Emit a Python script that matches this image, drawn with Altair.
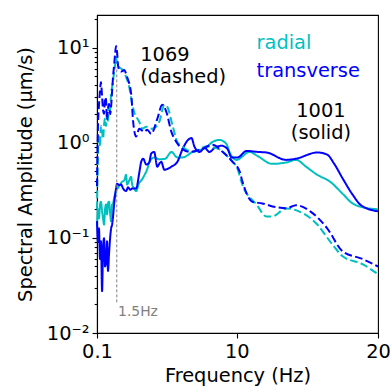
import altair as alt
import pandas as pd

# ---- station 1001 (solid lines) ----
t1001_freq = [0.10, 0.17, 0.24, 0.31, 0.38, 0.46, 0.53, 0.60, 0.67, 0.74,
              0.81, 0.88, 0.95, 1.03, 1.10, 1.17, 1.24, 1.31, 1.38, 1.45,
              1.52, 1.66, 1.81, 1.95, 2.16, 2.30, 2.45, 2.59, 2.73, 2.87,
              3.09, 3.23, 3.37, 3.59, 3.80, 3.94, 4.15, 4.37, 4.51, 4.65,
              4.87, 5.08, 5.37, 5.79, 6.15, 6.50, 6.79, 7.00, 7.36, 7.72,
              8.07, 8.42, 8.91, 9.34, 9.63, 10.05, 10.7, 11.5, 12.1, 13.5,
              14.2, 15.7, 16.4, 16.9, 17.5, 18.2, 18.8, 20.0]
t1001_amp = [0.15, 0.09, 0.126, 0.06, 0.092, 0.0275, 0.08, 0.099, 0.05, 0.057,
             0.092, 0.045, 0.067, 0.10, 0.126, 0.138, 0.17, 0.224, 0.28, 0.33,
             0.37, 0.36, 0.363, 0.33, 0.31, 0.34, 0.32, 0.33, 0.33, 0.33,
             0.48, 0.63, 0.68, 0.59, 0.62, 0.77, 0.80, 0.56, 0.60, 0.63,
             0.52, 0.53, 0.56, 0.63, 0.85, 1.05, 1.12, 0.91, 0.80, 0.88,
             0.80, 0.88, 0.93, 0.86, 0.70, 0.70, 0.82, 0.80, 0.79, 0.66,
             0.68, 0.79, 0.75, 0.60, 0.42, 0.285, 0.22, 0.19]

r1001_freq = [0.10, 0.17, 0.24, 0.31, 0.38, 0.46, 0.53, 0.60, 0.67, 0.74,
              0.81, 0.88, 0.95, 1.03, 1.10, 1.17, 1.24, 1.31, 1.45, 1.66,
              1.88, 2.02, 2.16, 2.23, 2.38, 2.52, 2.59, 2.73, 2.87, 3.09,
              3.23, 3.44, 3.66, 3.80, 4.15, 4.51, 4.94, 5.37, 5.79, 6.15,
              6.86, 7.86, 8.28, 8.77, 9.27, 9.48, 9.98, 10.9, 11.5, 12.5,
              13.5, 14.2, 14.9, 15.7, 16.6, 17.5, 18.2, 18.9, 20.0]
r1001_amp = [0.13, 0.20, 0.16, 0.22, 0.24, 0.19, 0.16, 0.138, 0.20, 0.224,
             0.176, 0.23, 0.24, 0.18, 0.149, 0.224, 0.23, 0.26, 0.31, 0.346,
             0.39, 0.40, 0.46, 0.363, 0.40, 0.44, 0.363, 0.33, 0.31, 0.38,
             0.40, 0.45, 0.53, 0.62, 0.70, 0.67, 0.68, 0.80, 0.70, 0.70,
             0.80, 0.90, 1.02, 1.07, 0.97, 0.80, 0.66, 0.80, 0.72, 0.60,
             0.62, 0.66, 0.56, 0.46, 0.39, 0.29, 0.23, 0.21, 0.20]

# ---- station 1069 (dashed lines) ----
t1069_freq = [0.10, 0.17, 0.24, 0.31, 0.38, 0.46, 0.53, 0.60, 0.67, 0.74,
              0.81, 0.88, 0.95, 1.03, 1.10, 1.17, 1.24, 1.31, 1.38, 1.45,
              1.52, 1.59, 1.66, 1.81, 2.02, 2.23, 2.52, 2.66, 2.87, 3.09,
              3.44, 3.66, 3.94, 4.37, 4.72, 5.01, 5.37, 5.72, 6.15, 6.65,
              7.36, 8.28, 9.00, 9.70, 10.2, 10.4, 11.1, 11.8, 12.8, 13.5,
              14.2, 15.2, 16.4, 17.5, 18.9, 20.0]
t1069_amp = [0.35, 1.5, 2.5, 3.5, 4.35, 3.03, 2.2, 2.01, 3.0, 2.82,
             1.74, 2.3, 2.56, 2.0, 2.4, 3.5, 5.0, 6.5, 8.5, 10.4,
             9.0, 6.5, 5.9, 5.6, 5.8, 4.9, 3.26, 1.66, 1.16, 1.40,
             1.30, 1.37, 1.24, 1.78, 2.50, 2.11, 1.30, 1.02, 0.86, 0.80,
             0.84, 0.95, 0.80, 0.63, 0.50, 0.39, 0.24, 0.23, 0.21, 0.205,
             0.22, 0.19, 0.126, 0.072, 0.06, 0.05]

r1069_freq = [0.10, 0.17, 0.24, 0.31, 0.38, 0.46, 0.53, 0.60, 0.67, 0.74,
              0.81, 0.88, 0.95, 1.03, 1.10, 1.17, 1.24, 1.31, 1.38, 1.45,
              1.52, 1.66, 1.88, 2.16, 2.38, 2.59, 2.73, 3.09, 3.30, 3.59,
              4.01, 4.51, 4.87, 5.08, 5.44, 5.79, 6.15, 6.86, 7.86, 8.77,
              9.48, 10.05, 10.4, 11.4, 12.1, 12.5, 13.5, 14.4, 15.7, 16.6,
              17.5, 18.9, 20.0]
r1069_amp = [0.2, 0.8, 1.2, 0.91, 1.5, 1.3, 1.1, 1.54, 1.8, 1.5,
             2.0, 1.7, 2.56, 2.2, 3.3, 3.86, 4.5, 5.5, 6.5, 7.96,
             7.0, 6.25, 5.9, 4.91, 3.86, 2.56, 2.11, 1.66, 1.40, 1.47,
             1.40, 1.66, 2.50, 2.38, 1.54, 1.02, 0.91, 0.80, 0.91, 0.85,
             0.68, 0.53, 0.36, 0.224, 0.168, 0.168, 0.204, 0.19, 0.138, 0.092,
             0.064, 0.053, 0.0415]

components = ["radial", "transverse"]
stations = ["1001", "1069"]

x_ticks = [0.1, 10, 20]
y_major = [0.01, 0.1, 1, 10]
y_major_labels = ["10\u207b\u00b2", "10\u207b\u00b9", "10\u2070", "10\u00b9"]
y_minor = [0.02, 0.03, 0.04, 0.05, 0.06, 0.07, 0.08, 0.09,
           0.2, 0.3, 0.4, 0.5, 0.6, 0.7, 0.8, 0.9,
           2, 3, 4, 5, 6, 7, 8, 9, 20]

marker_freq = 1.5

rows = []
for comp, sta, fr, am in [
    ("radial", "1001", r1001_freq, r1001_amp),
    ("transverse", "1001", t1001_freq, t1001_amp),
    ("radial", "1069", r1069_freq, r1069_amp),
    ("transverse", "1069", t1069_freq, t1069_amp),
]:
    for f, a in zip(fr, am):
        rows.append({"freq": f, "amp": a, "component": comp, "station": sta,
                     "series": comp + sta})
df = pd.DataFrame(rows)

FONT = "DejaVu Sans"
FS = 19.4

label_expr = " : ".join(
    f"datum.value === {v} ? '{t}'" for v, t in zip(y_major, y_major_labels)
) + " : ''"
major_test = " || ".join(f"datum.value === {v}" for v in y_major)

x_scale = alt.Scale(type="linear", domain=[0.1, 20], nice=False, zero=False, padding=0)
y_scale = alt.Scale(type="log", domain=[0.01, 22], nice=False, padding=0)

x_enc = alt.X("freq:Q", scale=x_scale,
              axis=alt.Axis(values=x_ticks, format="~g", title="Frequency (Hz)",
                            tickSize=5, labelPadding=4, titlePadding=6,
                            labelFlush=False))
y_enc = alt.Y("amp:Q", scale=y_scale,
              axis=alt.Axis(values=y_major + y_minor, labelExpr=label_expr,
                            tickSize={"condition": {"test": major_test, "value": 5},
                                      "value": 2.8},
                            title="Spectral Amplitude (\u00b5m/s)",
                            labelPadding=3, titlePadding=11, labelFlush=False))

lines = alt.Chart(df).mark_line(strokeWidth=2, interpolate="monotone").encode(
    x=x_enc, y=y_enc,
    color=alt.Color("component:N",
                    scale=alt.Scale(domain=components, range=["#00BFBF", "#0000FF"]),
                    legend=None),
    strokeDash=alt.StrokeDash("station:N",
                              scale=alt.Scale(domain=stations, range=[[1, 0], [7.7, 3.3]]),
                              legend=None),
    detail="series:N",
    order="freq:Q",
)

one = pd.DataFrame({"k": [0]})

marker = alt.Chart(one).mark_rule(color="#808080", strokeDash=[3, 2], strokeWidth=1).encode(
    x=alt.X(datum=marker_freq, type="quantitative", scale=x_scale),
    y=alt.Y(datum=0.021, type="quantitative", scale=y_scale),
    y2=alt.datum(6.3),
)


def note(txt, f, a, color="black", size=FS, align="left"):
    return alt.Chart(one).mark_text(text=txt, align=align, baseline="alphabetic",
                                    font=FONT, fontSize=size, color=color).encode(
        x=alt.X(datum=f, type="quantitative", scale=x_scale),
        y=alt.Y(datum=a, type="quantitative", scale=y_scale))


notes = [
    note("1069", 3.16, 7.25),
    note("(dashed)", 3.16, 4.2),
    note("radial", 11.4, 9.6, color="#00BFBF"),
    note("transverse", 11.4, 4.9, color="#0000FF"),
    note("1001", 15.96, 1.85, align="center"),
    note("(solid)", 15.96, 1.1, align="center"),
    note("1.5Hz", 1.59, 0.0151, color="#808080", size=13.9),
]

chart = alt.layer(lines, marker, *notes).properties(
    width=281, height=318,
    padding={"left": 97, "top": 15, "right": 13, "bottom": 59},
    autosize="none",
    background="white",
).configure_view(stroke="black", strokeWidth=1.1).configure_axis(
    grid=False, labelFont=FONT, titleFont=FONT, labelFontSize=FS, titleFontSize=FS,
    titleFontWeight="normal", labelColor="black", titleColor="black",
    tickColor="black", domainColor="black", tickWidth=1.1, domainWidth=1.1,
)

chart.save("out.html", embed_options={"renderer": "svg", "actions": False})
